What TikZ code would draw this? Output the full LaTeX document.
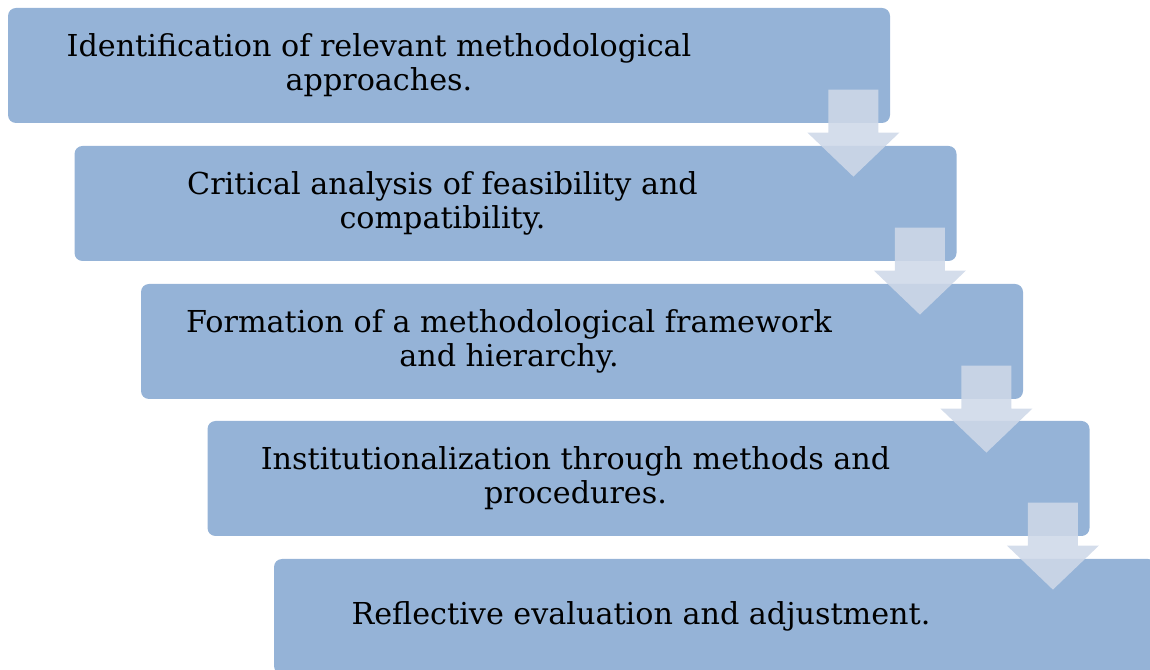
\documentclass[tikz,border=0pt]{standalone}
\usepackage{fontspec}
\setmainfont{DejaVu Serif}
\usepackage{xcolor}
\usetikzlibrary{calc}
\definecolor{boxblue}{RGB}{149,179,215}
\definecolor{arrowgray}{RGB}{206,216,232}

\begin{document}
\begin{tikzpicture}[x=0.5pt,y=0.5pt,
  stepbox/.style={fill=boxblue,rounded corners=4pt,minimum width=441pt,minimum height=57.5pt,inner sep=0pt},
  steptext/.style={align=center,font=\fontsize{15.1}{17}\selectfont},
  downarrow/.style={fill=arrowgray,fill opacity=0.88}]
\useasboundingbox (0,0) rectangle (1150,669);
\clip (0,0) rectangle (1150,669);
% boxes
\node[stepbox] (b1) at (449,603.5) {};
\node[stepbox] (b2) at (515.5,465.5) {};
\node[stepbox] (b3) at (582,327.5) {};
\node[stepbox] (b4) at (648.5,190.5) {};
\node[stepbox] (b5) at (715,52.5) {};
% texts
\node[steptext] (t1) at ($(b1)+(-70,0)$) {Identification of relevant methodological\\approaches.};
\node[steptext] (t2) at ($(b2)+(-73,0)$) {Critical analysis of feasibility and\\compatibility.};
\node[steptext] (t3) at ($(b3)+(-73,0)$) {Formation of a methodological framework\\and hierarchy.};
\node[steptext] (t4) at ($(b4)+(-73,0)$) {Institutionalization through methods and\\procedures.};
\node[steptext] (t5) at ($(b5)+(-74,0)$) {Reflective evaluation and adjustment.};
% arrows
\draw[downarrow,draw=none] ($(b1.north east)+(-62,-82)$) -- ++(50,0) -- ++(0,-43) -- ++(21,0) -- ($(b1.north east)+(-37,-169)$) -- ++(-46,44) -- ++(21,0) -- cycle;
\draw[downarrow,draw=none] ($(b2.north east)+(-62,-82)$) -- ++(50,0) -- ++(0,-43) -- ++(21,0) -- ($(b2.north east)+(-37,-169)$) -- ++(-46,44) -- ++(21,0) -- cycle;
\draw[downarrow,draw=none] ($(b3.north east)+(-62,-82)$) -- ++(50,0) -- ++(0,-43) -- ++(21,0) -- ($(b3.north east)+(-37,-169)$) -- ++(-46,44) -- ++(21,0) -- cycle;
\draw[downarrow,draw=none] ($(b4.north east)+(-62,-82)$) -- ++(50,0) -- ++(0,-43) -- ++(21,0) -- ($(b4.north east)+(-37,-169)$) -- ++(-46,44) -- ++(21,0) -- cycle;
\end{tikzpicture}
\end{document}
